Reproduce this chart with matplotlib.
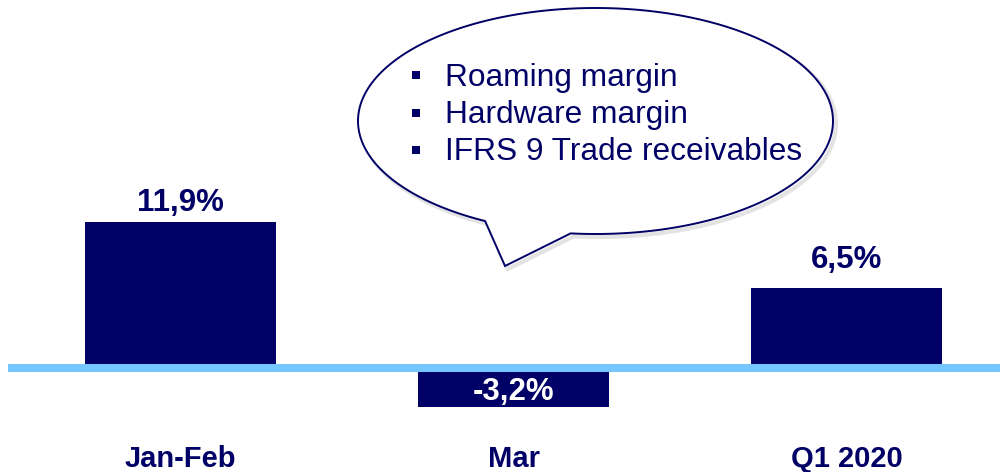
import numpy as np
import matplotlib
matplotlib.use("Agg")
import matplotlib.pyplot as plt
from matplotlib.path import Path
from matplotlib.patches import PathPatch
from matplotlib.transforms import Affine2D

plt.rcParams['font.family'] = ['Liberation Sans', 'DejaVu Sans']

# data
categories = ["Jan-Feb", "Mar", "Q1 2020"]
values = [11.9, -3.2, 6.5]
value_labels = ["11,9%", "-3,2%", "6,5%"]
bubble_items = ["Roaming margin", "Hardware margin", "IFRS 9 Trade receivables"]

NAVY = "#000066"
SKY = "#75C5FF"
W, H = 1000, 472
label_offsets = [7.7, -23, 14.4]   # points, baseline relative to bar end

fig = plt.figure(figsize=(W / 100, H / 100), dpi=100)
ax = fig.add_axes([0, 0, 1, 1])
ax.set_xlim(-0.54, 2.459)
ax.set_ylim(-8.48, 30.0)
ax.axis("off")

x = np.arange(len(categories))
ax.bar(x, values, width=0.573, color=NAVY, zorder=2)
ax.axhline(0, xmin=0.012, xmax=1, color=SKY, lw=5.8, zorder=3)

for xi, v, lab, off in zip(x, values, value_labels, label_offsets):
    ref = v if v >= 0 else 0
    ax.annotate(lab, (xi, ref), xytext=(0, off), textcoords="offset points",
                ha="center", va="baseline", fontsize=22.5, fontweight="bold",
                color=NAVY if v >= 0 else "white", zorder=4)

for xi, c in zip(x, categories):
    ax.annotate(c, (xi, -8.48), xytext=(0, 3.8), textcoords="offset points",
                ha="center", va="baseline", fontsize=21, fontweight="bold", color=NAVY)

# speech bubble, drawn in pixel coords (y down)
px = Affine2D().scale(1 / W, -1 / H).translate(0, 1) + fig.transFigure
cx, cy, a, b = 595.5, 121, 237.5, 113
t = np.radians(np.linspace(96, 117.7 - 360, 300))
pts = np.column_stack([cx + a * np.cos(t), cy + b * np.sin(t)])
pts = np.vstack([pts, [[505, 266]], pts[:1]])
codes = [Path.MOVETO] + [Path.LINETO] * (len(pts) - 2) + [Path.CLOSEPOLY]
bubble = Path(pts, codes)
shadow = PathPatch(bubble, transform=Affine2D().translate(3, 3) + px, facecolor="none",
                   edgecolor="#b0b0b0", lw=3, alpha=0.35, zorder=4)
fig.patches.append(shadow)
fig.patches.append(PathPatch(bubble, transform=px, facecolor="white", edgecolor=NAVY,
                             lw=1.4, zorder=5))

for i, item in enumerate(bubble_items):
    base = 85.7 + 37.3 * i
    sq = PathPatch(Path.unit_rectangle(), transform=Affine2D().scale(8, 8).translate(412, base - 14.5) + px,
                   facecolor=NAVY, edgecolor="none", zorder=6)
    fig.patches.append(sq)
    fig.text(445 / W, 1 - base / H, item, ha="left", va="baseline", fontsize=22.8,
             color=NAVY, zorder=6)

fig.savefig("out.png", dpi=100)
